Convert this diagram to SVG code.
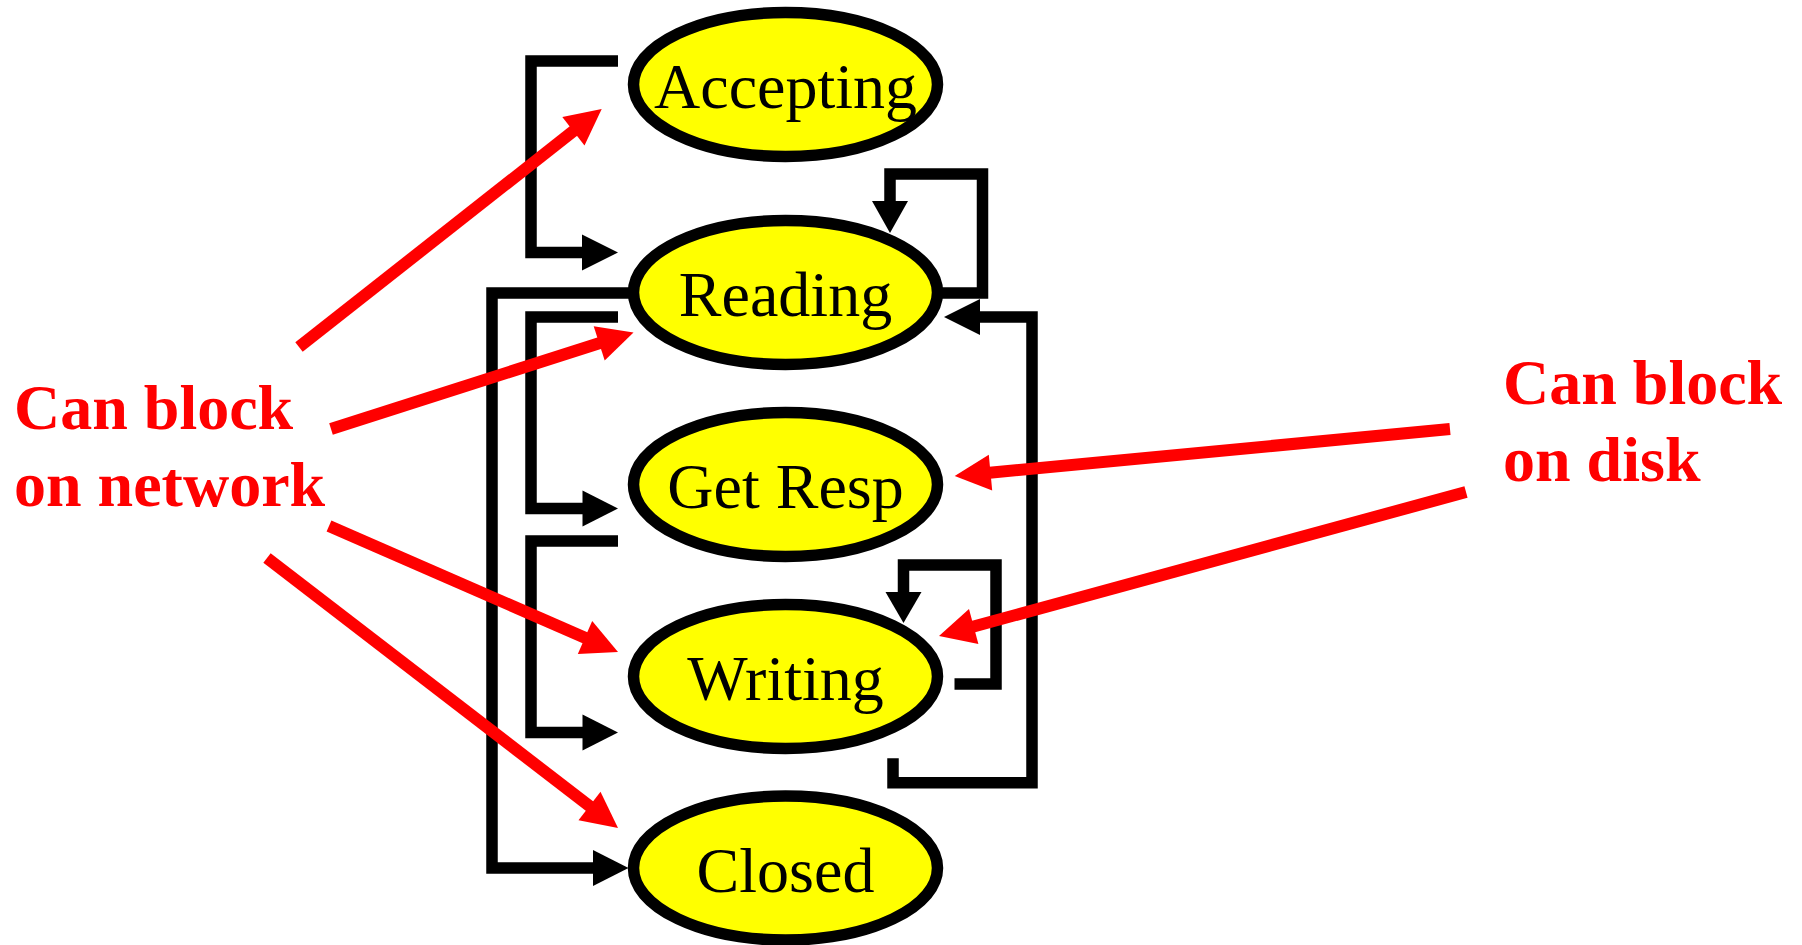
<svg xmlns="http://www.w3.org/2000/svg" width="1802" height="945" viewBox="0 0 1802 945">
  <style>
    .state ellipse { fill: #ffff00; stroke: #000000; stroke-width: 11.5; }
    .state text { font-family: "Liberation Serif", "Times New Roman", serif; font-size: 64px; fill: #000000; text-anchor: middle; }
    .edge { fill: none; stroke: #000000; stroke-width: 11.5; stroke-linejoin: miter; stroke-linecap: butt; }
    .head { fill: #000000; stroke: none; }
    .note { font-family: "Liberation Serif", "Times New Roman", serif; font-size: 64px; font-weight: bold; fill: #ff0000; }
    .pointer { fill: none; stroke: #ff0000; stroke-width: 12; stroke-linecap: butt; }
    .pointer-head { fill: #ff0000; stroke: none; }
  </style>

  <rect width="1802" height="945" fill="#ffffff"/>

  <!-- States -->
  <g id="accepting" class="state">
    <ellipse cx="785.5" cy="84.5" rx="152" ry="72"/>
    <text x="785.5" y="108">Accepting</text>
  </g>
  <g id="reading" class="state">
    <ellipse cx="785.5" cy="292.5" rx="152" ry="72"/>
    <text x="785.5" y="315.5">Reading</text>
  </g>
  <g id="get-resp" class="state">
    <ellipse cx="785.5" cy="484.5" rx="152" ry="72"/>
    <text x="785.5" y="508">Get Resp</text>
  </g>
  <g id="writing" class="state">
    <ellipse cx="785.5" cy="676.5" rx="152" ry="72"/>
    <text x="785.5" y="700">Writing</text>
  </g>
  <g id="closed" class="state">
    <ellipse cx="785.5" cy="868" rx="152" ry="72"/>
    <text x="785.5" y="891.5">Closed</text>
  </g>

  <!-- State transitions -->
  <g id="transitions">
    <!-- Accepting -> Reading -->
    <path class="edge" d="M618,61 H531 V252.5 H584"/>
    <polygon class="head" points="582,234.5 618,252.5 582,270.5"/>
    <!-- Reading -> Reading -->
    <path class="edge" d="M942,293 H982.5 V174 H890 V203"/>
    <polygon class="head" points="872,201 908,201 890,233"/>
    <!-- Writing -> Reading -->
    <path class="edge" d="M893,758.3 V782.8 H1032 V317 H978"/>
    <polygon class="head" points="980,299 944,317 980,335"/>
    <!-- Reading -> Closed -->
    <path class="edge" d="M629,293 H492 V868 H595"/>
    <polygon class="head" points="593,850 628.5,868 593,886"/>
    <!-- Reading -> Get Resp -->
    <path class="edge" d="M618,317 H531 V508.5 H584"/>
    <polygon class="head" points="582.5,490.5 618,508.5 582.5,526.5"/>
    <!-- Get Resp -> Writing -->
    <path class="edge" d="M618,541 H531 V732.5 H584"/>
    <polygon class="head" points="582.5,714.5 618,732.5 582.5,750.5"/>
    <!-- Writing -> Writing -->
    <path class="edge" d="M954.5,684 H996 V565 H903.5 V594"/>
    <polygon class="head" points="885.5,592 921.5,592 903.5,623"/>
  </g>

  <!-- Blocking annotations -->
  <g id="network-note">
    <text class="note" x="14" y="429">Can block</text>
    <text class="note" x="14" y="506">on network</text>
  </g>
  <g id="disk-note">
    <text class="note" x="1503" y="404">Can block</text>
    <text class="note" x="1503" y="481">on disk</text>
  </g>

  <g id="annotation-pointers">
    <!-- to Accepting -->
    <line class="pointer" x1="299" y1="347" x2="576" y2="129"/>
    <polygon class="pointer-head" points="601.7,109 584.5,145.4 562.3,117.1"/>
    <!-- to Reading -->
    <line class="pointer" x1="331" y1="429" x2="603" y2="342"/>
    <polygon class="pointer-head" points="633.5,332.5 604.7,360.6 593.7,326.3"/>
    <!-- to Writing -->
    <line class="pointer" x1="329" y1="526" x2="589" y2="639.5"/>
    <polygon class="pointer-head" points="618,652 577.8,654.1 592.2,621.1"/>
    <!-- to Closed -->
    <line class="pointer" x1="267" y1="558" x2="592" y2="808"/>
    <polygon class="pointer-head" points="618,828 578.5,820.3 600.5,791.8"/>
    <!-- to Get Resp -->
    <line class="pointer" x1="1450" y1="429" x2="987" y2="473"/>
    <polygon class="pointer-head" points="954.7,476 988.8,454.7 992.2,490.5"/>
    <!-- to Writing -->
    <line class="pointer" x1="1466" y1="492" x2="970" y2="627.5"/>
    <polygon class="pointer-head" points="939,636 978.4,643.9 969,609.1"/>
  </g>
</svg>
